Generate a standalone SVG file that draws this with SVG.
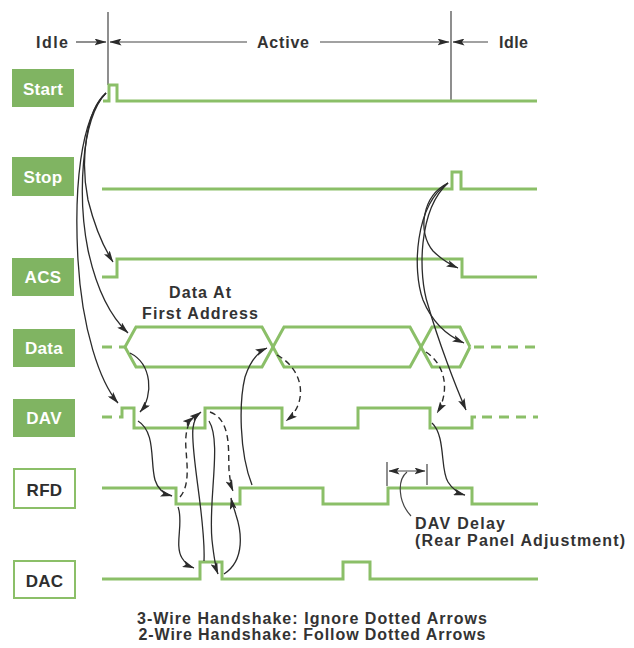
<svg xmlns="http://www.w3.org/2000/svg" width="634" height="648" viewBox="0 0 634 648">
<defs>
<style>
.bx{fill:#80b462}
.bxo{fill:#fff;stroke:#8bbf68;stroke-width:2}
.lb{font-family:"Liberation Sans",Arial,sans-serif;font-weight:bold;font-size:17px;fill:#fff;text-anchor:middle;letter-spacing:0.3px}
.lbd{fill:#2e2e2e}
.w{fill:none;stroke:#8bbf68;stroke-width:3;stroke-linejoin:miter}
.wd{fill:none;stroke:#8bbf68;stroke-width:3;stroke-dasharray:10,7}
.t{font-family:"Liberation Sans",Arial,sans-serif;font-weight:bold;font-size:16px;fill:#333}
.ln{fill:none;stroke:#444;stroke-width:1.2}
.a{fill:none;stroke:#2b2b2b;stroke-width:1.3;marker-end:url(#ah)}
.ad{fill:none;stroke:#2b2b2b;stroke-width:1.4;stroke-dasharray:6,4;marker-end:url(#ah)}
</style>
<marker id="ah" markerWidth="12" markerHeight="7" refX="11.5" refY="3.5" orient="auto" markerUnits="userSpaceOnUse"><path d="M0,0 L12,3.5 L0,7 L2.5,3.5 z" fill="#2b2b2b"/></marker>
<marker id="ahs" markerWidth="11" markerHeight="7" refX="10.5" refY="3.5" orient="auto-start-reverse" markerUnits="userSpaceOnUse"><path d="M0,0 L11,3.5 L0,7 L2.5,3.5 z" fill="#2b2b2b"/></marker>
</defs>
<rect width="634" height="648" fill="#fff"/>

<g id="phases">
<line class="ln" x1="108" y1="12" x2="108" y2="85"/>
<line class="ln" x1="451" y1="11" x2="451" y2="100"/>
<text class="t" x="36" y="48" textLength="32" lengthAdjust="spacing">Idle</text>
<text class="t" x="257" y="48" textLength="52" lengthAdjust="spacing">Active</text>
<text class="t" x="499" y="48" textLength="29" lengthAdjust="spacing">Idle</text>
<line class="ln" x1="76" y1="42" x2="106" y2="42" style="marker-end:url(#ah)"/>
<line class="ln" x1="247" y1="42" x2="110" y2="42" style="marker-end:url(#ah)"/>
<line class="ln" x1="320" y1="42" x2="449" y2="42" style="marker-end:url(#ah)"/>
<line class="ln" x1="488" y1="42" x2="453" y2="42" style="marker-end:url(#ah)"/>
</g>

<g id="start">
<rect class="bx" x="12" y="69" width="62" height="38"/>
<text class="lb" x="43" y="95">Start</text>
<path class="w" d="M103,101 H109 V85 H117 V101 H537"/>
</g>

<g id="stop">
<rect class="bx" x="12" y="157" width="62" height="39"/>
<text class="lb" x="43" y="183">Stop</text>
<path class="w" d="M102,189 H452 V172 H461 V189 H537"/>
</g>

<g id="acs">
<rect class="bx" x="12" y="258" width="62" height="38"/>
<text class="lb" x="43" y="283">ACS</text>
<path class="w" d="M102,277 H117 V259 H462 V277 H537"/>
</g>

<g id="data">
<rect class="bx" x="13" y="329" width="62" height="38"/>
<text class="lb" x="44" y="354">Data</text>
<path class="wd" d="M102,347 H125"/>
<path class="w" d="M125,347 L136,327 H262 L284,367 H410 L432,327 H460 L470,347"/>
<path class="w" d="M125,347 L136,367 H262 L284,327 H410 L432,367 H460 L470,347"/>
<path class="wd" d="M474,347 H538"/>
<text class="t" x="200" y="298" text-anchor="middle" textLength="62" lengthAdjust="spacing">Data At</text>
<text class="t" x="200" y="319" text-anchor="middle" textLength="116" lengthAdjust="spacing">First Address</text>
</g>

<g id="dav">
<rect class="bx" x="13" y="399" width="62" height="38"/>
<text class="lb" x="44" y="424">DAV</text>
<path class="wd" d="M102,417 H120"/>
<path class="w" d="M120,417 H122 V408 H134 V428 H205 V408 H282 V428 H358 V408 H430 V428 H472 V417 H476"/>
<path class="wd" d="M482,417 H538"/>
</g>

<g id="rfd">
<rect class="bxo" x="14" y="469" width="61" height="39"/>
<text class="lb lbd" x="44.5" y="496">RFD</text>
<path class="w" d="M102,488 H176 V504 H240 V488 H323 V504 H388 V488 H472 V504 H538"/>
</g>

<g id="dac">
<rect class="bxo" x="14" y="561" width="61" height="37"/>
<text class="lb lbd" x="44.5" y="587">DAC</text>
<path class="w" d="M102,579 H200 V562 H222 V579 H343 V562 H370 V579 H538"/>
</g>

<g id="dav-delay">
<line class="ln" x1="387" y1="462" x2="387" y2="486"/>
<line class="ln" x1="427" y1="464" x2="427" y2="485"/>
<line class="ln" x1="389" y1="471" x2="425" y2="471" style="marker-start:url(#ahs);marker-end:url(#ahs)"/>
<path class="ln" d="M407,472 C397,480 398,502 411,516"/>
<text class="t" x="415" y="529" textLength="90" lengthAdjust="spacing">DAV Delay</text>
<text class="t" x="415" y="546" textLength="210" lengthAdjust="spacing">(Rear Panel Adjustment)</text>
</g>

<g id="connectors">
<path class="a" d="M106,93 C86,110 80,160 88,200 C96,232 104,248 113,262"/>
<path class="a" d="M106,93 C80,120 78,200 88,250 C96,287 110,316 128,333"/>
<path class="a" d="M106,93 C80,118 74,190 78,260 C82,330 100,382 118,403"/>
<path class="a" d="M130,353 C152,364 154,396 140,412"/>
<path class="a" d="M138,421 C156,432 150,462 155,480 C158,490 164,494 172,496"/>
<path class="a" d="M178,507 C184,522 174,545 182,558 C185,563 189,566 194,568"/>
<path class="ad" d="M180,497 C193,482 184,452 186,436 C187,426 190,420 194,417"/>
<path class="a" d="M204,561 C206,520 190,452 193,428 C194,420 197,415 201,412"/>
<path class="a" d="M209,421 C222,442 208,500 212,540 C214,558 215,566 218,574"/>
<path class="ad" d="M210,412 C232,420 228,452 229,470 C230,480 231,486 233,491"/>
<path class="a" d="M224,574 C246,560 241,530 236,515 C234,508 232,503 231,498"/>
<path class="a" d="M252,485 C239,452 239,402 245,377 C250,362 258,352 267,348"/>
<path class="ad" d="M277,355 C305,370 308,404 286,421"/>
<path class="a" d="M448,183 C422,196 417,232 433,251 C441,259 449,264 458,268"/>
<path class="a" d="M448,183 C415,205 412,270 423,300 C432,322 448,336 464,343"/>
<path class="a" d="M448,183 C418,210 418,275 428,305 C438,340 455,385 466,410"/>
<path class="ad" d="M426,352 C446,365 450,392 437,413"/>
<path class="a" d="M432,423 C446,436 440,470 448,482 C453,490 458,493 465,495"/>
</g>

<g id="legend">
<text class="t" x="312" y="624" text-anchor="middle" textLength="350" lengthAdjust="spacing">3-Wire Handshake: Ignore Dotted Arrows</text>
<text class="t" x="312" y="640" text-anchor="middle" textLength="347" lengthAdjust="spacing">2-Wire Handshake: Follow Dotted Arrows</text>
</g>
</svg>
